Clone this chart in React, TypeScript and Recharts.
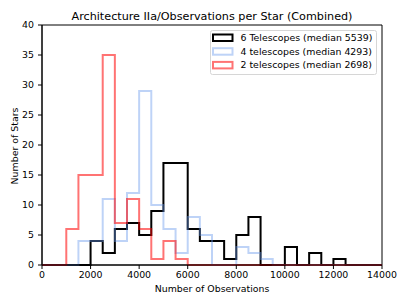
import React from 'react';
import { LineChart, Line, XAxis, YAxis, ReferenceArea, Legend } from 'recharts';

const binStarts = [0, 500, 1000, 1500, 2000, 2500, 3000, 3500, 4000, 4500, 5000, 5500, 6000, 6500, 7000, 7500, 8000, 8500, 9000, 9500, 10000, 10500, 11000, 11500, 12000, 12500, 13000, 13500];
const binEnd = 14000;
const sixTelescopes = [0, 0, 0, 0, 4, 2, 6, 7, 5, 9, 17, 17, 6, 4, 4, 1, 5, 8, 0, 0, 3, 0, 2, 0, 1, 0, 0, 0];
const fourTelescopes = [0, 0, 0, 4, 4, 11, 4, 12, 29, 10, 6, 2, 8, 5, 0, 0, 3, 2, 1, 0, 0, 0, 0, 0, 0, 0, 0, 0];
const twoTelescopes = [0, 0, 6, 15, 15, 35, 7, 11, 6, 1, 4, 1, 0, 0, 0, 0, 0, 0, 0, 0, 0, 0, 0, 0, 0, 0, 0, 0];
const xTicks = [0, 2000, 4000, 6000, 8000, 10000, 12000, 14000];
const yTicks = [0, 5, 10, 15, 20, 25, 30, 35, 40];
const seriesNames = ['6 Telescopes (median 5539)', '4 telescopes (median 4293)', '2 telescopes (median 2698)'];
const titleText = 'Architecture IIa/Observations per Star (Combined)';
const xLabel = 'Number of Observations';
const yLabel = 'Number of Stars';

const data = [
  ...binStarts.map((x, i) => ({ x, six: sixTelescopes[i], four: fourTelescopes[i], two: twoTelescopes[i] })),
  { x: binEnd, six: 0, four: 0, two: 0 },
];

const FONT = '"DejaVu Sans", sans-serif';
const styles = [
  { key: 'six', color: '#000000', opacity: 1 },
  { key: 'four', color: 'cornflowerblue', opacity: 0.42 },
  { key: 'two', color: 'red', opacity: 0.55 },
];

const LegendBox = () => (
  <svg width={167} height={45} style={{ display: 'block' }}>
    <rect x={0.5} y={0.5} width={166} height={44} rx={2} fill="#fff" fillOpacity={0.8} stroke="#d6d6d6" strokeWidth={1} />
    {seriesNames.map((name, i) => (
      <g key={name}>
        <rect x={3} y={4.5 + i * 13.7} width={19.5} height={6.5} fill="none" stroke={styles[i].color} strokeOpacity={styles[i].opacity} strokeWidth={2} />
        <text x={30.5} y={11 + i * 13.7} fontFamily={FONT} fontSize={9.4} fill="#000">{name}</text>
      </g>
    ))}
  </svg>
);

export default function App() {
  const tickStyle = { fontFamily: FONT, fontSize: 9.4, fill: '#000' };
  return (
    <div style={{ position: 'absolute', left: 0, top: 0, width: 407, height: 305, background: '#fff' }}>
      <LineChart width={407} height={305} data={data} margin={{ top: 25, right: 25, left: 0, bottom: 0 }}>
        <XAxis
          dataKey="x"
          type="number"
          domain={[0, 14000]}
          ticks={xTicks}
          height={40}
          tick={tickStyle}
          tickSize={4}
          tickMargin={2}
          axisLine={{ stroke: '#000' }}
          tickLine={{ stroke: '#000' }}
          interval={0}
        />
        <YAxis
          type="number"
          domain={[0, 40]}
          ticks={yTicks}
          width={42}
          tick={tickStyle}
          tickSize={4}
          tickMargin={4}
          axisLine={{ stroke: '#000' }}
          tickLine={{ stroke: '#000' }}
          interval={0}
        />
        <ReferenceArea x1={0} x2={14000} y1={0} y2={40} fill="none" stroke="#000" strokeWidth={1} />
        {styles.map((s) => (
          <Line
            key={s.key}
            dataKey={s.key}
            type="stepAfter"
            stroke={s.color}
            strokeOpacity={s.opacity}
            strokeWidth={2}
            strokeLinejoin="miter"
            strokeLinecap="butt"
            dot={false}
            activeDot={false}
            isAnimationActive={false}
          />
        ))}
        <Legend
          layout="horizontal"
          verticalAlign="middle"
          align="center"
          content={() => <LegendBox />}
          wrapperStyle={{ position: 'absolute', left: 210, top: 30, width: 167, height: 45 }}
        />
      </LineChart>
      <svg width={407} height={305} style={{ position: 'absolute', left: 0, top: 0, pointerEvents: 'none' }}>
        <text x={212} y={20} textAnchor="middle" fontFamily={FONT} fontSize={11.2} fill="#000">{titleText}</text>
        <text x={212} y={292} textAnchor="middle" fontFamily={FONT} fontSize={9.4} fill="#000">{xLabel}</text>
        <text x={17.5} y={146} textAnchor="middle" fontFamily={FONT} fontSize={9.4} fill="#000" transform="rotate(-90 17.5 146)">{yLabel}</text>
      </svg>
    </div>
  );
}
